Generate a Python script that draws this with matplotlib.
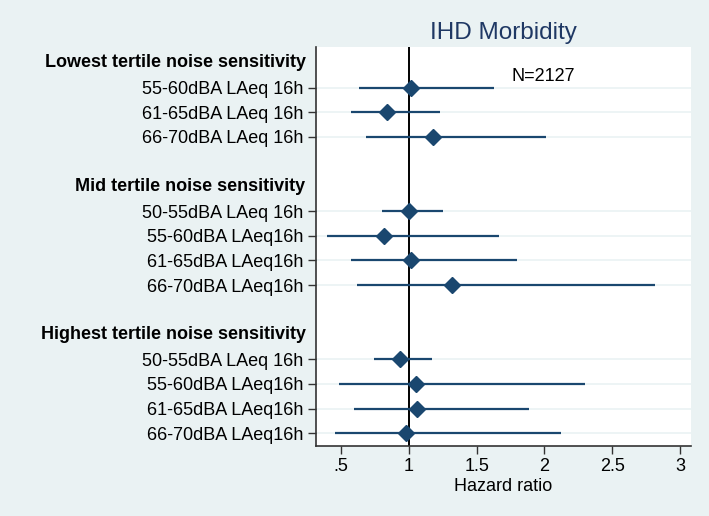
import matplotlib
matplotlib.use("Agg")
import matplotlib.pyplot as plt

plt.rcParams['font.family'] = ['Liberation Sans', 'DejaVu Sans']

headers = ["Lowest tertile noise sensitivity",
           "Mid tertile noise sensitivity",
           "Highest tertile noise sensitivity"]
header_rows = [0, 5, 11]

labels = ["55-60dBA LAeq 16h", "61-65dBA LAeq 16h", "66-70dBA LAeq 16h",
          "50-55dBA LAeq 16h", "55-60dBA LAeq16h", "61-65dBA LAeq16h", "66-70dBA LAeq16h",
          "50-55dBA LAeq 16h", "55-60dBA LAeq16h", "61-65dBA LAeq16h", "66-70dBA LAeq16h"]
rows = [1, 2, 3, 6, 7, 8, 9, 12, 13, 14, 15]
hr = [1.014, 0.84, 1.176, 1.00, 0.815, 1.016, 1.32, 0.933, 1.055, 1.063, 0.982]
lo = [0.63, 0.574, 0.687, 0.80, 0.40, 0.571, 0.62, 0.743, 0.487, 0.598, 0.456]
hi = [1.63, 1.23, 2.01, 1.25, 1.663, 1.80, 2.818, 1.171, 2.30, 1.889, 2.125]
xticks = [0.5, 1, 1.5, 2, 2.5, 3]
xticklabels = [".5", "1", "1.5", "2", "2.5", "3"]

bg = '#eaf2f3'
navy = '#1a476f'

fig = plt.figure(figsize=(7.09, 5.16), dpi=100, facecolor=bg)
ax = fig.add_axes([0.4457, 0.1362, 0.9746 - 0.4457, 0.9089 - 0.1362])
ax.set_facecolor('white')

for r in rows:
    ax.axhline(r, color=bg, lw=1.2, zorder=0)

ax.hlines(rows, lo, hi, color=navy, lw=1.6, zorder=2)
ax.plot(hr, rows, linestyle='none', marker='D', markersize=8.5, color=navy, zorder=3)
ax.axvline(1, color='black', lw=1.4, zorder=1)

ax.set_xlim(0.316, 3.081)
ax.set_ylim(15.5, -0.64)

ax.set_yticks(rows)
ax.set_yticklabels(labels, fontsize=13)
for h, r in zip(headers, header_rows):
    ax.text(-0.028, r, h, transform=ax.get_yaxis_transform(), ha='right', va='center',
            fontsize=13, fontweight='bold')

ax.set_xticks(xticks)
ax.set_xticklabels(xticklabels, fontsize=13)
ax.tick_params(axis='both', length=6, width=1.0, color='#333333', pad=3)
ax.set_xlabel("Hazard ratio", fontsize=13, labelpad=2)

for s in ['top', 'right']:
    ax.spines[s].set_visible(False)
for s in ['left', 'bottom']:
    ax.spines[s].set_color('#333333')
    ax.spines[s].set_linewidth(1.2)

ax.text(1.76, 0.55, "N=2127", fontsize=13, ha='left', va='center')
ax.set_title("IHD Morbidity", fontsize=17.5, color='#1f3864', pad=6)

fig.savefig("out.png", dpi=100, facecolor=bg)
